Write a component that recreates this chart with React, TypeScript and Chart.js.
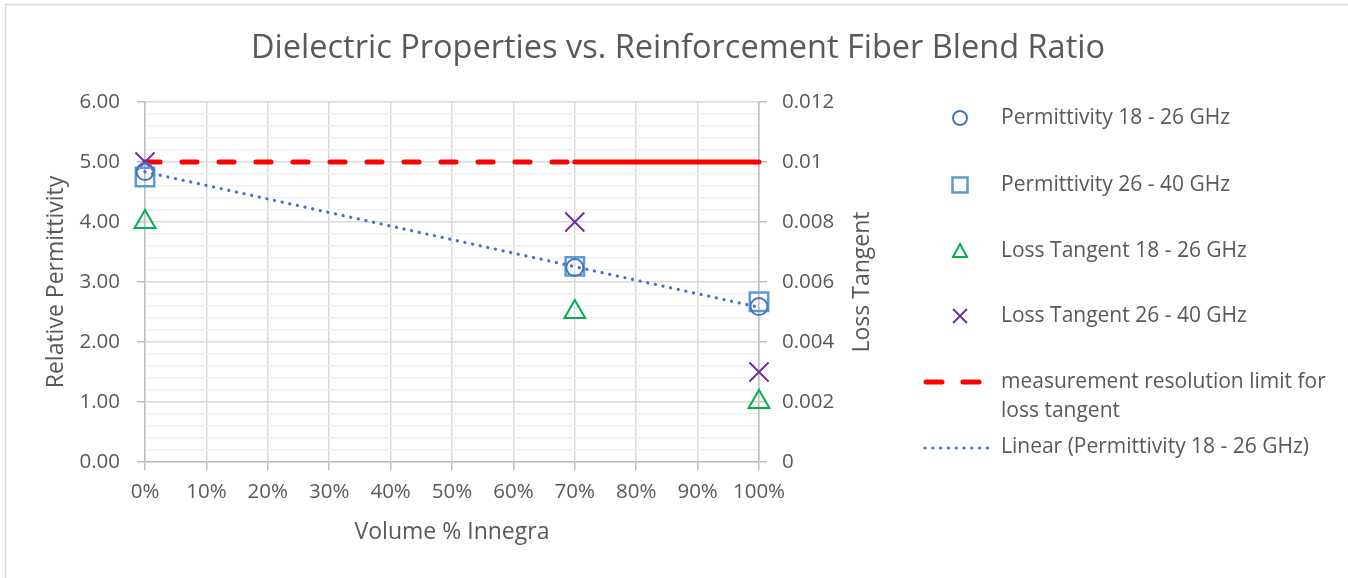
import React, { useEffect, useRef } from 'react';
import { Chart, registerables } from 'chart.js';

Chart.register(...registerables);

// ---------- data ----------
const chartTitle = 'Dielectric Properties vs. Reinforcement Fiber Blend Ratio';
const xAxisTitle = 'Volume % Innegra';
const leftAxisTitle = 'Relative Permittivity';
const rightAxisTitle = 'Loss Tangent';

const volumeFraction = [0, 0.7, 1];
const permittivity18to26 = [4.84, 3.24, 2.59];
const permittivity26to40 = [4.75, 3.26, 2.67];
const lossTangent18to26 = [0.008, 0.005, 0.002];
const lossTangent26to40 = [0.01, 0.008, 0.003];
const resolutionLimit = [0.01, 0.01, 0.01];

const seriesNames = [
  'Permittivity 18 - 26 GHz',
  'Permittivity 26 - 40 GHz',
  'Loss Tangent 18 - 26 GHz',
  'Loss Tangent 26 - 40 GHz',
  'measurement resolution limit for loss tangent',
  'Linear (Permittivity 18 - 26 GHz)',
];
const limitLegendLines = ['measurement resolution limit for', 'loss tangent'];

// ---------- styles ----------
const FONT = '"Open Sans", Lato, sans-serif';
const TEXT = '#595959';
const C_CIRCLE = '#4472C4';
const C_SQUARE = '#5B9BD5';
const C_TRI = '#00B050';
const C_CROSS = '#7030A0';
const C_RED = '#FF0000';
const GRID_MAJOR = '#d9d9d9';
const GRID_MINOR = '#f2f2f2';
const AXIS = '#bfbfbf';

function linearFit(xs: number[], ys: number[]) {
  const n = xs.length;
  const mx = xs.reduce((a, b) => a + b, 0) / n;
  const my = ys.reduce((a, b) => a + b, 0) / n;
  let sxy = 0;
  let sxx = 0;
  for (let i = 0; i < n; i++) {
    sxy += (xs[i] - mx) * (ys[i] - my);
    sxx += (xs[i] - mx) * (xs[i] - mx);
  }
  const slope = sxy / sxx;
  return { slope, intercept: my - slope * mx };
}

const pts = (ys: number[]) => volumeFraction.map((x, i) => ({ x, y: ys[i] }));

const isMajor = (v: number) => Math.abs(v - Math.round(v)) < 1e-6;

function drawMarker(ctx: CanvasRenderingContext2D, kind: string, x: number, y: number, s: number, color: string) {
  ctx.save();
  ctx.strokeStyle = color;
  ctx.lineWidth = 2;
  ctx.beginPath();
  if (kind === 'circle') {
    ctx.arc(x, y, s, 0, Math.PI * 2);
  } else if (kind === 'rect') {
    ctx.lineWidth = 2.5;
    ctx.rect(x - s, y - s, 2 * s, 2 * s);
  } else if (kind === 'triangle') {
    ctx.moveTo(x, y - s);
    ctx.lineTo(x + s, y + s * 0.85);
    ctx.lineTo(x - s, y + s * 0.85);
    ctx.closePath();
  } else if (kind === 'cross') {
    ctx.moveTo(x - s, y - s);
    ctx.lineTo(x + s, y + s);
    ctx.moveTo(x + s, y - s);
    ctx.lineTo(x - s, y + s);
  }
  ctx.stroke();
  ctx.restore();
}

const decorPlugin = {
  id: 'decor',
  beforeDraw(chart: any) {
    const ctx = chart.ctx as CanvasRenderingContext2D;
    ctx.save();
    ctx.fillStyle = '#ffffff';
    ctx.fillRect(0, 0, chart.width, chart.height);
    ctx.strokeStyle = GRID_MAJOR;
    ctx.lineWidth = 1.5;
    ctx.beginPath();
    ctx.moveTo(5.5, chart.height);
    ctx.lineTo(5.5, 4.5);
    ctx.lineTo(chart.width, 4.5);
    ctx.stroke();
    ctx.restore();
  },
  afterDraw(chart: any) {
    const ctx = chart.ctx as CanvasRenderingContext2D;
    const area = chart.chartArea;
    ctx.save();
    ctx.fillStyle = TEXT;
    // chart title
    ctx.font = `32.5px ${FONT}`;
    ctx.textAlign = 'center';
    ctx.textBaseline = 'alphabetic';
    ctx.fillText(chartTitle, 678, 58);
    // x title
    ctx.font = `23px ${FONT}`;
    ctx.fillText(xAxisTitle, (area.left + area.right) / 2, 539);
    // left title
    const midY = (area.top + area.bottom) / 2;
    ctx.textBaseline = 'middle';
    ctx.save();
    ctx.translate(56, midY);
    ctx.rotate(-Math.PI / 2);
    ctx.fillText(leftAxisTitle, 0, 0);
    ctx.restore();
    // right title
    ctx.save();
    ctx.translate(862, midY);
    ctx.rotate(-Math.PI / 2);
    ctx.fillText(rightAxisTitle, 0, 0);
    ctx.restore();

    // legend
    const mx = 960;
    const tx = 1001;
    ctx.font = `21px ${FONT}`;
    ctx.textAlign = 'left';
    ctx.textBaseline = 'middle';
    const rows = [118, 185, 251, 316];
    const kinds = ['circle', 'rect', 'triangle', 'cross'];
    const cols = [C_CIRCLE, C_SQUARE, C_TRI, C_CROSS];
    const sizes = [7, 7.5, 7, 7];
    rows.forEach((ry, i) => {
      drawMarker(ctx, kinds[i], mx, ry, sizes[i], cols[i]);
      ctx.fillStyle = TEXT;
      ctx.fillText(seriesNames[i], tx, ry);
    });
    // red dashes
    ctx.strokeStyle = C_RED;
    ctx.lineWidth = 5;
    ctx.lineCap = 'round';
    ctx.beginPath();
    ctx.moveTo(926, 382);
    ctx.lineTo(942, 382);
    ctx.moveTo(963, 382);
    ctx.lineTo(979, 382);
    ctx.stroke();
    ctx.fillStyle = TEXT;
    ctx.fillText(limitLegendLines[0], tx, 382);
    ctx.fillText(limitLegendLines[1], tx, 411);
    // dotted trend
    ctx.strokeStyle = C_CIRCLE;
    ctx.lineWidth = 3.2;
    ctx.setLineDash([0.1, 7.7]);
    ctx.beginPath();
    ctx.moveTo(925, 448);
    ctx.lineTo(994, 448);
    ctx.stroke();
    ctx.setLineDash([]);
    ctx.fillText(seriesNames[5], tx, 447);
    ctx.restore();
  },
};

export default function App() {
  const ref = useRef<HTMLCanvasElement | null>(null);

  useEffect(() => {
    if (!ref.current) return;
    const fit = linearFit(volumeFraction, permittivity18to26);
    const xMin = Math.min(...volumeFraction);
    const xMax = Math.max(...volumeFraction);
    const trend = [
      { x: xMin, y: fit.intercept + fit.slope * xMin },
      { x: xMax, y: fit.intercept + fit.slope * xMax },
    ];

    const chart = new Chart(ref.current, {
      type: 'scatter',
      data: {
        datasets: [
          {
            label: seriesNames[5],
            data: trend,
            showLine: true,
            yAxisID: 'y',
            borderColor: C_CIRCLE,
            borderWidth: 3.2,
            borderDash: [0.1, 7.7],
            borderCapStyle: 'round',
            pointRadius: 0,
            clip: false,
            order: 0,
          },
          {
            label: seriesNames[0],
            data: pts(permittivity18to26),
            yAxisID: 'y',
            pointStyle: 'circle',
            pointRadius: 8.5,
            borderColor: C_CIRCLE,
            backgroundColor: 'rgba(0,0,0,0)',
            borderWidth: 2,
            clip: false,
            order: 1,
          },
          {
            label: seriesNames[1],
            data: pts(permittivity26to40),
            yAxisID: 'y',
            pointStyle: 'rect',
            pointRadius: 13,
            borderColor: C_SQUARE,
            backgroundColor: 'rgba(0,0,0,0)',
            borderWidth: 2.5,
            clip: false,
            order: 2,
          },
          {
            label: seriesNames[2],
            data: pts(lossTangent18to26),
            yAxisID: 'y1',
            pointStyle: 'triangle',
            pointRadius: 12,
            borderColor: C_TRI,
            backgroundColor: 'rgba(0,0,0,0)',
            borderWidth: 2,
            clip: false,
            order: 3,
          },
          {
            label: seriesNames[3],
            data: pts(lossTangent26to40),
            yAxisID: 'y1',
            pointStyle: 'crossRot',
            pointRadius: 13.5,
            borderColor: C_CROSS,
            backgroundColor: 'rgba(0,0,0,0)',
            borderWidth: 2,
            clip: false,
            order: 4,
          },
          {
            label: seriesNames[4],
            data: pts(resolutionLimit),
            yAxisID: 'y1',
            showLine: true,
            borderColor: C_RED,
            borderWidth: 5,
            borderCapStyle: 'round',
            borderDash: [],
            pointRadius: 0,
            clip: false,
            segment: {
              borderDash: (c: any) => (c.p0DataIndex === 0 ? [15, 22] : []),
            },
            order: 5,
          },
        ] as any,
      },
      options: {
        responsive: false,
        animation: false,
        events: [],
        layout: { padding: { top: 102, right: 459, bottom: 0, left: 0 } },
        plugins: {
          legend: { display: false },
          title: { display: false },
          tooltip: { enabled: false },
        },
        scales: {
          x: {
            type: 'linear',
            min: 0,
            max: 1,
            afterFit: (s: any) => {
              s.height = 116;
            },
            ticks: {
              stepSize: 0.1,
              color: TEXT,
              font: { family: FONT, size: 20.5 },
              padding: 10,
              maxRotation: 0,
              callback: (v: any) => `${Math.round(Number(v) * 100)}%`,
            },
            grid: {
              color: GRID_MAJOR,
              lineWidth: 1.5,
              tickLength: 8,
              tickColor: AXIS,
            },
            border: { color: AXIS, width: 1.5 },
          },
          y: {
            type: 'linear',
            position: 'left',
            min: 0,
            max: 6,
            afterFit: (s: any) => {
              s.width = 145;
            },
            ticks: {
              stepSize: 0.2,
              autoSkip: false,
              color: TEXT,
              font: { family: FONT, size: 20.5 },
              padding: 17,
              callback: (v: any) => (isMajor(Number(v)) ? Number(v).toFixed(2) : ''),
            },
            grid: {
              color: (c: any) => (isMajor(c.tick.value) ? GRID_MAJOR : GRID_MINOR),
              lineWidth: 1.5,
              tickLength: 8,
              tickColor: (c: any) => (isMajor(c.tick.value) ? AXIS : 'rgba(0,0,0,0)'),
            },
            border: { color: AXIS, width: 1.5 },
          },
          y1: {
            type: 'linear',
            position: 'right',
            min: 0,
            max: 0.012,
            afterFit: (s: any) => {
              s.width = 130;
            },
            ticks: {
              stepSize: 0.002,
              color: TEXT,
              font: { family: FONT, size: 20.5 },
              padding: 15,
              callback: (v: any) => String(parseFloat(Number(v).toFixed(4))),
            },
            grid: {
              drawOnChartArea: false,
              tickLength: 8,
              tickColor: AXIS,
              lineWidth: 1.5,
            },
            border: { color: AXIS, width: 1.5 },
          },
        },
      } as any,
      plugins: [decorPlugin],
    });
    return () => chart.destroy();
  }, []);

  return (
    <div style={{ position: 'fixed', left: 0, top: 0, width: 1348, height: 578, background: '#fff' }}>
      <canvas ref={ref} width={1348} height={578} style={{ display: 'block' }} />
    </div>
  );
}
